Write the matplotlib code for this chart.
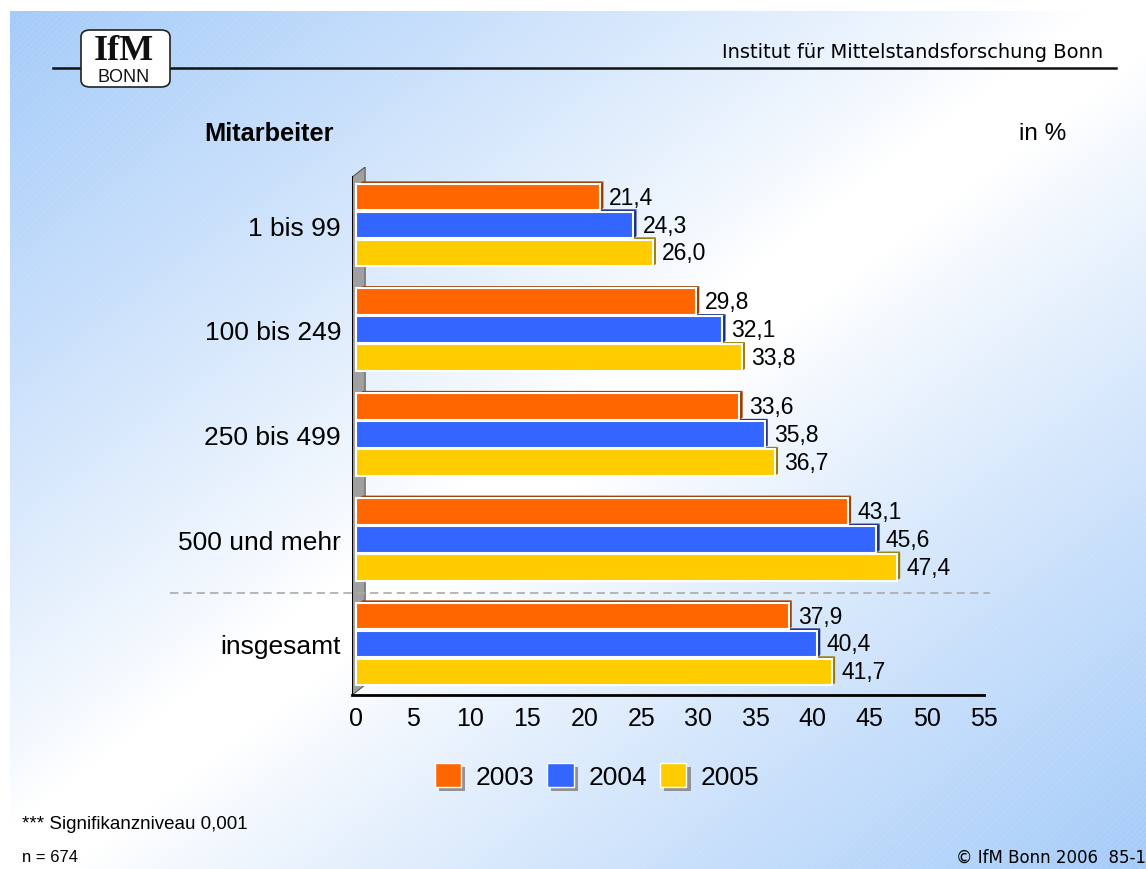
import numpy as np
import matplotlib
matplotlib.use("Agg")
import matplotlib.pyplot as plt
from matplotlib.patches import Polygon, Patch, FancyBboxPatch
from matplotlib.lines import Line2D
import matplotlib.patheffects as pe
import matplotlib.transforms as mtransforms

# data
categories = ["1 bis 99", "100 bis 249", "250 bis 499", "500 und mehr", "insgesamt"]
years = ["2003", "2004", "2005"]
values_2003 = [21.4, 29.8, 33.6, 43.1, 37.9]
values_2004 = [24.3, 32.1, 35.8, 45.6, 40.4]
values_2005 = [26.0, 33.8, 36.7, 47.4, 41.7]
x_ticks = [0, 5, 10, 15, 20, 25, 30, 35, 40, 45, 50, 55]

series = [values_2003, values_2004, values_2005]
colors = ["#FF6600", "#3366FF", "#FFCC00"]
side_colors = ["#9A3D00", "#1A2E8C", "#9C7C00"]

W, H = 1146, 870
plt.rcParams["font.family"] = ["Liberation Sans", "DejaVu Sans"]

fig = plt.figure(figsize=(W / 100, H / 100), dpi=100, facecolor="white")


def fx(x):
    return x / W


def fy(y):
    return 1 - y / H


# background gradient (blue corners, white anti-diagonal, faint hatching)
bg = fig.add_axes([fx(10), 0, 1 - fx(10), 1 - 12 / H], zorder=-10)
bw, bh = W - 10, H - 12
xx, yy = np.meshgrid(np.arange(bw), np.arange(bh))
t = (xx / bw + yy / bh) / 2
blend = np.clip((np.abs(t - 0.5) * 2 - 0.05) / 0.95, 0, 1) ** 0.9
hatch = ((xx + yy) % 6 == 0) * 0.12
blue = np.array([165, 203, 248]) / 255
white = np.ones(3)
img = white[None, None, :] * (1 - blend[..., None]) + blue[None, None, :] * blend[..., None]
img = img + (1 - img) * (hatch * blend)[..., None]
bg.imshow(np.clip(img, 0, 1), aspect="auto", interpolation="nearest")
bg.axis("off")

# main axes
ax = fig.add_axes([fx(352.2), 0.2, (984.3 - 352.2) / W, 528 / H])
ax.patch.set_alpha(0)
ax.set_xlim(-0.33, 55.05)
ax.set_ylim(4.487, -0.554)

pos = np.arange(len(categories))
offsets = [-0.267, 0.0, 0.267]
h = 0.255
dx, dy = 0.28, 0.022

# 3D wall on the left
wall = Polygon([(-0.33, -0.458), (0.8, -0.554), (0.8, 4.39), (-0.33, 4.487)],
               closed=True, facecolor="#A0A0A0", edgecolor="#555555", lw=0.8, zorder=1)
ax.add_patch(wall)
ax.plot([-0.33, -0.33], [-0.458, 4.487], color="black", lw=1.5, zorder=1.5)

for vals, off, col, scol in zip(series, offsets, colors, side_colors):
    yc = pos + off
    ax.barh(yc, vals, height=h, left=0, color=col, edgecolor="white", linewidth=1.5, zorder=3)
    for v, y in zip(vals, yc):
        top, bot = y - h / 2, y + h / 2
        side = Polygon([(v, bot), (v + dx, bot - dy), (v + dx, top - dy), (v, top)],
                       closed=True, facecolor=scol, edgecolor="none", zorder=2)
        topf = Polygon([(0.3, top), (0.3 + dx, top - dy), (v + dx, top - dy), (v, top)],
                       closed=True, facecolor=scol, edgecolor="none", zorder=2)
        ax.add_patch(side)
        ax.add_patch(topf)
        ax.text(v + 0.8, y, f"{v:.1f}".replace(".", ","), ha="left", va="center",
                fontsize=16.5, zorder=4)

ax.set_yticks(pos)
ax.set_yticklabels(categories, fontsize=19)
ax.set_xticks(x_ticks)
ax.set_xticklabels([str(x) for x in x_ticks], fontsize=18)
ax.tick_params(axis="y", length=0, pad=8)
ax.tick_params(axis="x", length=0, pad=8)
for s in ["top", "right", "left"]:
    ax.spines[s].set_visible(False)
ax.spines["bottom"].set_linewidth(2)

# dashed separator before "insgesamt"
trans = mtransforms.blended_transform_factory(fig.transFigure, ax.transData)
fig.add_artist(Line2D([fx(170), fx(990)], [3.51, 3.51], transform=trans,
                      color="#AAAAAA", lw=1.2, ls=(0, (5, 3)), zorder=5))

# titles
fig.text(fx(269), fy(134), "Mitarbeiter", fontsize=18.3, fontweight="bold",
         ha="center", va="center")
fig.text(fx(1043), fy(134), "in %", fontsize=17.5, ha="center", va="center")

# header
fig.add_artist(Line2D([fx(53), fx(1116)], [fy(69), fy(69)], color="#111111", lw=1.8))
fig.text(fx(1103), fy(53), "Institut für Mittelstandsforschung Bonn",
         family="DejaVu Sans", fontsize=14, ha="right", va="center")
logo = FancyBboxPatch((fx(81), fy(88)), fx(89), 57 / H,
                      boxstyle="round,pad=0,rounding_size=0.008",
                      transform=fig.transFigure, facecolor="white",
                      edgecolor="#222222", lw=1.2, zorder=5)
fig.add_artist(logo)
fig.text(fx(124), fy(52), "IfM", family="Liberation Serif", fontweight="bold",
         fontsize=26, ha="center", va="center", color="#111111", zorder=6)
fig.text(fx(124), fy(78), "BONN", family="Liberation Sans", fontsize=13,
         ha="center", va="center", color="#111111", zorder=6)

# legend
shadow = [pe.withSimplePatchShadow(offset=(3, -3), shadow_rgbFace="#888888", alpha=0.9)]
handles = [Patch(facecolor=c, edgecolor="white", lw=1, path_effects=shadow) for c in colors]
fig.legend(handles, years, loc="center", bbox_to_anchor=(fx(597), fy(777)), ncol=3,
           frameon=False, fontsize=19, handlelength=1.0, handleheight=1.0,
           handletextpad=0.55, columnspacing=0.5)

# footer
fig.text(fx(22), fy(825), "*** Signifikanzniveau 0,001",
         family=["Liberation Sans Narrow", "Liberation Sans"], fontsize=13.5,
         ha="left", va="center")
fig.text(fx(22), fy(858), "n = 674",
         family=["Liberation Sans Narrow", "Liberation Sans"], fontsize=12,
         ha="left", va="center")
fig.text(fx(1146), fy(858), "© IfM Bonn 2006  85-1", family="DejaVu Sans",
         fontsize=12, ha="right", va="center")

fig.savefig("out.png", dpi=100, facecolor="white")
